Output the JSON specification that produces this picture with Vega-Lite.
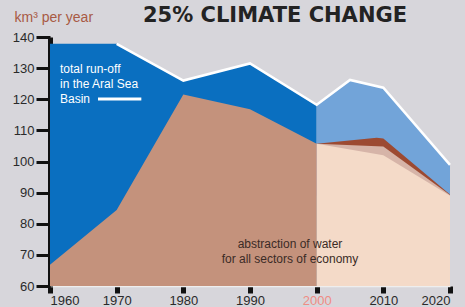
{
  "$schema": "https://vega.github.io/schema/vega-lite/v6.json",
  "width": 400,
  "height": 249,
  "autosize": {"type": "none"},
  "padding": {"left": 50, "top": 37, "right": 15, "bottom": 21},
  "background": "#d7d6db",
  "config": {"view": {"stroke": null}, "font": "Liberation Sans"},
  "resolve": {"axis": {"x": "independent", "y": "independent"}},
  "data": {"values": [
    {"series": "runoff_hist", "year": 1960, "value": 137.8},
    {"series": "runoff_hist", "year": 1970, "value": 137.8},
    {"series": "runoff_hist", "year": 1980, "value": 126.0},
    {"series": "runoff_hist", "year": 1990, "value": 131.5},
    {"series": "runoff_hist", "year": 2000, "value": 118.2},
    {"series": "runoff_proj", "year": 2000, "value": 118.2},
    {"series": "runoff_proj", "year": 2005, "value": 126.2},
    {"series": "runoff_proj", "year": 2010, "value": 123.7},
    {"series": "runoff_proj", "year": 2020, "value": 98.9},
    {"series": "abstr_hist", "year": 1960, "value": 66.8},
    {"series": "abstr_hist", "year": 1970, "value": 84.4},
    {"series": "abstr_hist", "year": 1980, "value": 121.5},
    {"series": "abstr_hist", "year": 1990, "value": 116.8},
    {"series": "abstr_hist", "year": 2000, "value": 105.7},
    {"series": "proj_red", "year": 2000, "value": 105.7},
    {"series": "proj_red", "year": 2009, "value": 107.6},
    {"series": "proj_red", "year": 2010, "value": 107.4},
    {"series": "proj_red", "year": 2020, "value": 89.4},
    {"series": "proj_grey", "year": 2000, "value": 105.7},
    {"series": "proj_grey", "year": 2010, "value": 104.8},
    {"series": "proj_grey", "year": 2020, "value": 89.2},
    {"series": "proj_peach", "year": 2000, "value": 105.7},
    {"series": "proj_peach", "year": 2010, "value": 102.0},
    {"series": "proj_peach", "year": 2020, "value": 89.0}
  ]},
  "layer": [
    {
      "encoding": {
        "x": {"field": "year", "type": "quantitative",
          "scale": {"domain": [1960, 2020], "nice": false},
          "axis": {"values": [1960, 1970, 1980, 1990, 2000, 2010, 2020], "format": "d", "title": null,
            "grid": false, "domainColor": "#eeeeee", "domainWidth": 1.5,
            "tickColor": "#111111", "tickWidth": 5, "tickSize": 7, "labelPadding": 1,
            "labelFontSize": 13, "labelFont": "Liberation Sans",
            "labelColor": {"condition": {"test": "datum.value == 2000", "value": "#ef8c84"}, "value": "#2a2a2a"}}},
        "y": {"field": "value", "type": "quantitative",
          "scale": {"domain": [60, 140], "nice": false, "zero": false},
          "axis": {"values": [60, 70, 80, 90, 100, 110, 120, 130, 140], "grid": false,
            "title": "km³ per year", "titleAngle": 0, "titleX": -36, "titleY": -20, "titleAlign": "left", "titleBaseline": "middle",
            "titleColor": "#a85a44", "titleFontSize": 14, "titleFontWeight": "normal", "titleFont": "Liberation Sans",
            "domainColor": "#111111", "domainWidth": 5,
            "tickColor": "#111111", "tickWidth": 3, "tickSize": 14, "labelPadding": 2,
            "labelFontSize": 13, "labelColor": "#2a2a2a"}}
      },
      "layer": [
        {"transform": [{"filter": "datum.series == 'runoff_hist'"}], "mark": {"type": "area", "color": "#0a6fc0", "opacity": 1}, "encoding": {"y2": {"datum": 60}}},
        {"transform": [{"filter": "datum.series == 'runoff_proj'"}], "mark": {"type": "area", "color": "#72a4d9", "opacity": 1}, "encoding": {"y2": {"datum": 60}}},
        {"transform": [{"filter": "datum.series == 'abstr_hist'"}], "mark": {"type": "area", "color": "#c4927c", "opacity": 1}, "encoding": {"y2": {"datum": 60}}},
        {"transform": [{"filter": "datum.series == 'proj_red'"}], "mark": {"type": "area", "color": "#9c4a32", "opacity": 1}, "encoding": {"y2": {"datum": 60}}},
        {"transform": [{"filter": "datum.series == 'proj_grey'"}], "mark": {"type": "area", "color": "#d6b4a8", "opacity": 1}, "encoding": {"y2": {"datum": 60}}},
        {"transform": [{"filter": "datum.series == 'proj_peach'"}], "mark": {"type": "area", "color": "#f4dac8", "opacity": 1}, "encoding": {"y2": {"datum": 60}}},
        {"transform": [{"filter": "(datum.series == 'runoff_hist' || datum.series == 'runoff_proj') && datum.year >= 1970"}], "mark": {"type": "line", "color": "#ffffff", "strokeWidth": 2.5}}
      ]
    },
    {"data": {"values": [{"t": "total run-off", "v": 129.8}, {"t": "in the Aral Sea", "v": 125.0}, {"t": "Basin", "v": 120.1}]},
      "mark": {"type": "text", "color": "#ffffff", "fontSize": 12, "align": "left", "baseline": "middle", "font": "Liberation Sans"},
      "encoding": {"x": {"datum": 1961.5, "type": "quantitative", "axis": null}, "y": {"field": "v", "type": "quantitative", "axis": null}, "text": {"field": "t"}}},
    {"data": {"values": [{"k": 1}]}, "mark": {"type": "rule", "color": "#ffffff", "strokeWidth": 3},
      "encoding": {"x": {"datum": 1967.2, "type": "quantitative", "axis": null}, "x2": {"datum": 1973.7}, "y": {"datum": 120.1, "type": "quantitative", "axis": null}}},
    {"data": {"values": [{"t": "abstraction of water", "v": 73.5}, {"t": "for all sectors of economy", "v": 68.7}]},
      "mark": {"type": "text", "color": "#3b2b26", "fontSize": 12, "align": "center", "baseline": "middle", "font": "Liberation Sans"},
      "encoding": {"x": {"datum": 1996.0, "type": "quantitative", "axis": null}, "y": {"field": "v", "type": "quantitative", "axis": null}, "text": {"field": "t"}}},
    {"data": {"values": [{"t": "25% CLIMATE CHANGE"}]},
      "mark": {"type": "text", "color": "#232323", "fontSize": 21, "fontWeight": "bold", "align": "center", "baseline": "middle", "font": "DejaVu Sans"},
      "encoding": {"x": {"datum": 1993.75, "type": "quantitative", "axis": null}, "y": {"datum": 146.8, "type": "quantitative", "axis": null}, "text": {"field": "t"}}}
  ]
}
